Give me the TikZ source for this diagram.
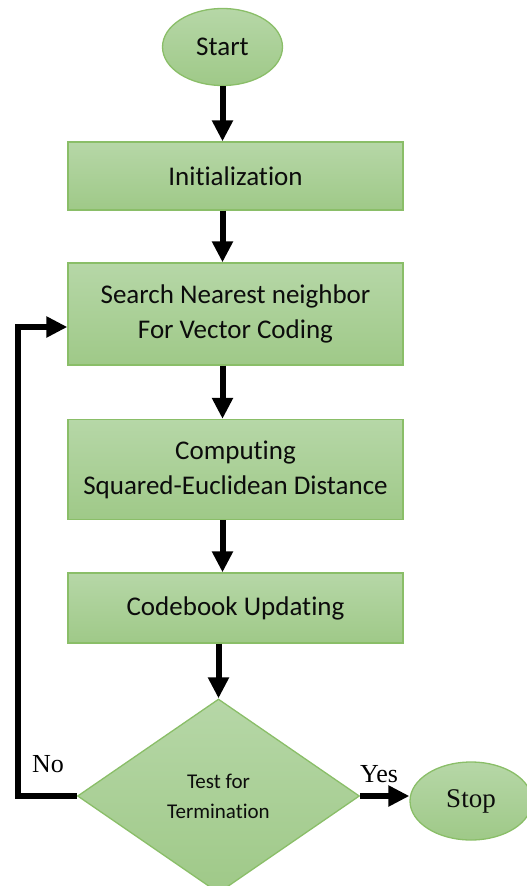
\documentclass[tikz,border=0pt]{standalone}
\usepackage{fontspec}
\setmainfont{Liberation Serif}
\newfontfamily\boxfont[Ligatures=NoCommon]{Carlito}
\usetikzlibrary{arrows.meta,shapes.geometric,calc}

\definecolor{fillTop}{RGB}{182,215,167}
\definecolor{fillBot}{RGB}{159,201,136}
\definecolor{edgeGreen}{RGB}{138,190,104}
\definecolor{inkGrey}{RGB}{12,12,12}

\tikzset{
  greenshape/.style={draw=edgeGreen, line width=1.3pt, top color=fillTop, bottom color=fillBot,
    text=inkGrey, inner sep=0pt, align=center},
  procbox/.style={greenshape, rectangle, minimum width=335pt,
    font=\boxfont\fontsize{27}{35}\selectfont},
  terminal/.style={greenshape, ellipse, minimum width=120pt, minimum height=77pt},
  decision/.style={greenshape, diamond, minimum width=282pt, minimum height=194pt, aspect=1.45,
    font=\boxfont\fontsize{21}{30}\selectfont},
  flow/.style={line width=6pt, -{Triangle[length=21pt,width=20pt]}, line join=miter},
  branchlabel/.style={font=\fontsize{26}{30}\selectfont, text=black, inner sep=0pt, anchor=base west}
}

\begin{document}
\begin{tikzpicture}[x=1pt,y=-1pt]
  \useasboundingbox (0,0) rectangle (527,886);

  % terminals
  \node[terminal, font=\boxfont\fontsize{27}{30}\selectfont] (start) at (222.5,47) {Start};
  \node[terminal, minimum width=122pt, minimum height=78pt, font=\fontsize{27}{30}\selectfont] (stop) at (471,801) {Stop};

  % process steps
  \node[procbox, minimum height=68pt]  (init)   at (235.5,176)   {Initialization};
  \node[procbox, minimum height=102pt] (search) at (235.5,314)   {Search Nearest neighbor\\For Vector Coding};
  \node[procbox, minimum height=100pt] (dist)   at (235.5,469.5) {Computing\\Squared-Euclidean Distance};
  \node[procbox, minimum height=70pt]  (update) at (235.5,608)   {Codebook Updating};

  % decision
  \node[decision] (test) at (218.5,796) {Test for\\Termination};

  % main flow
  \draw[flow] (start.south) -- (init.north -| start.south);
  \draw[flow] (init.south -| start.south) -- (search.north -| start.south);
  \draw[flow] (search.south -| start.south) -- (dist.north -| start.south);
  \draw[flow] (dist.south -| start.south) -- (update.north -| start.south);
  \draw[flow] (update.south -| test.north) -- (test.north);

  % loop back when the test fails
  \coordinate (loopx) at (18,0);
  \coordinate (loopin) at ($(search.west)+(0,13)$);
  \draw[flow] (test.west) -- (test.west -| loopx) |- (loopin);

  % exit when the test passes
  \draw[flow] (test.east) -- (test.east -| stop.west);

  % branch labels
  \node[branchlabel] (nolbl)  at (32,772)  {No};
  \node[branchlabel] (yeslbl) at (360,782) {Yes};
\end{tikzpicture}
\end{document}
